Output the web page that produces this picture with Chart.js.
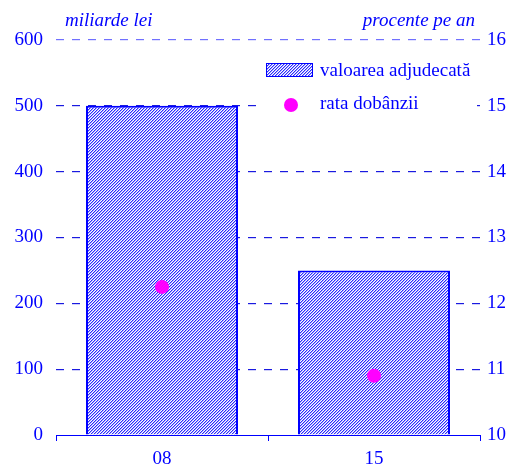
<!DOCTYPE html>
<html><head><meta charset="utf-8">
<script src="https://cdn.jsdelivr.net/npm/chart.js@4/dist/chart.umd.min.js"></script>
<style>html,body{margin:0;padding:0;background:#fff;}#wrap{width:517px;height:467px;position:relative;}</style>
</head><body><div id="wrap"><canvas id="c" width="517" height="467"></canvas></div>
<script>
const categories = ['08', '15'];
const amounts = [500, 250];
const rates = [12.25, 10.9];
const leftTicks = [0, 100, 200, 300, 400, 500, 600];
const rightTicks = [10, 11, 12, 13, 14, 15, 16];
const leftTitle = 'miliarde lei';
const rightTitle = 'procente pe an';
const legendBar = 'valoarea adjudecată';
const legendDot = 'rata dobânzii';

const BLUE = '#0000ff';
const FONT = '"Liberation Serif", "Times New Roman", serif';
const FS = 19;

function makePattern() {
  const t = document.createElement('canvas');
  t.width = 3; t.height = 3;
  const g = t.getContext('2d');
  g.fillStyle = '#ffffff'; g.fillRect(0, 0, 3, 3);
  for (let i = 0; i < 3; i++) {
    g.fillStyle = '#2a2aff'; g.fillRect(i, 2 - i, 1, 1);
    g.fillStyle = '#a8a8ff'; g.fillRect(i, (3 - i) % 3, 1, 1);
  }
  return document.getElementById('c').getContext('2d').createPattern(t, 'repeat');
}
const hatch = makePattern();

const overlay = {
  id: 'overlay',
  afterDraw(chart) {
    const ctx = chart.ctx;
    const a = chart.chartArea;
    ctx.save();
    ctx.fillStyle = BLUE;
    ctx.font = 'italic ' + FS + 'px ' + FONT;
    ctx.textBaseline = 'middle';
    ctx.textAlign = 'left';
    ctx.fillText(leftTitle, 65, 21);
    ctx.textAlign = 'right';
    ctx.fillText(rightTitle, a.right - 5, 21);
    // legend
    ctx.font = FS + 'px ' + FONT;
    ctx.textAlign = 'left';
    ctx.fillStyle = '#ffffff';
    ctx.fillRect(262, 58, 215, 62);
    ctx.fillStyle = hatch;
    ctx.fillRect(266, 63, 47, 14);
    ctx.strokeStyle = BLUE; ctx.lineWidth = 1;
    ctx.strokeRect(266.5, 63.5, 46, 13);
    ctx.fillStyle = BLUE;
    ctx.fillText(legendBar, 320, 71);
    ctx.beginPath();
    ctx.fillStyle = '#ff00ff';
    ctx.arc(291, 105, 7, 0, Math.PI * 2);
    ctx.fill();
    ctx.fillStyle = BLUE;
    ctx.fillText(legendDot, 320, 104);
    ctx.restore();
  }
};

new Chart(document.getElementById('c'), {
  type: 'bar',
  data: {
    labels: categories,
    datasets: [
      { type: 'line', data: rates, yAxisID: 'y2', showLine: false,
        pointRadius: 7, pointHoverRadius: 7, pointBackgroundColor: '#ff00ff',
        pointBorderWidth: 0, borderColor: '#ff00ff', order: 0 },
      { type: 'bar', data: amounts, yAxisID: 'y', backgroundColor: hatch,
        borderColor: BLUE, borderWidth: 2, borderSkipped: 'bottom',
        barPercentage: 0.717, categoryPercentage: 1, order: 1 }
    ]
  },
  options: {
    responsive: false, animation: false, devicePixelRatio: 1,
    layout: { padding: { top: 40, bottom: 0, left: 0, right: 0 } },
    plugins: { legend: { display: false }, tooltip: { enabled: false } },
    scales: {
      x: {
        offset: true,
        afterFit: s => { s.height = 32; },
        grid: { offset: true, drawOnChartArea: false, drawTicks: true, tickLength: 6, color: BLUE, lineWidth: 1 },
        border: { display: true, color: BLUE, width: 1 },
        ticks: { color: BLUE, font: { family: FONT, size: FS }, padding: 7 }
      },
      y: {
        position: 'left', min: 0, max: 600,
        afterBuildTicks: s => { s.ticks = leftTicks.map(v => ({ value: v })); },
        afterFit: s => { s.width = 56; },
        grid: {
          drawTicks: false,
          color: c => c.tick && c.tick.value === 600 ? '#7070ff' : (c.tick && c.tick.value === 0 ? 'rgba(0,0,0,0)' : '#1a1ae0'),
          lineWidth: 1.2
        },
        border: { display: false, dash: [8, 8] },
        ticks: { color: BLUE, font: { family: FONT, size: FS }, padding: 13 }
      },
      y2: {
        position: 'right', min: 10, max: 16,
        afterBuildTicks: s => { s.ticks = rightTicks.map(v => ({ value: v })); },
        afterFit: s => { s.width = 37; },
        grid: { display: false, drawTicks: false },
        border: { display: false },
        ticks: { color: BLUE, font: { family: FONT, size: FS }, padding: 7 }
      }
    }
  },
  plugins: [overlay]
});
</script></body></html>
